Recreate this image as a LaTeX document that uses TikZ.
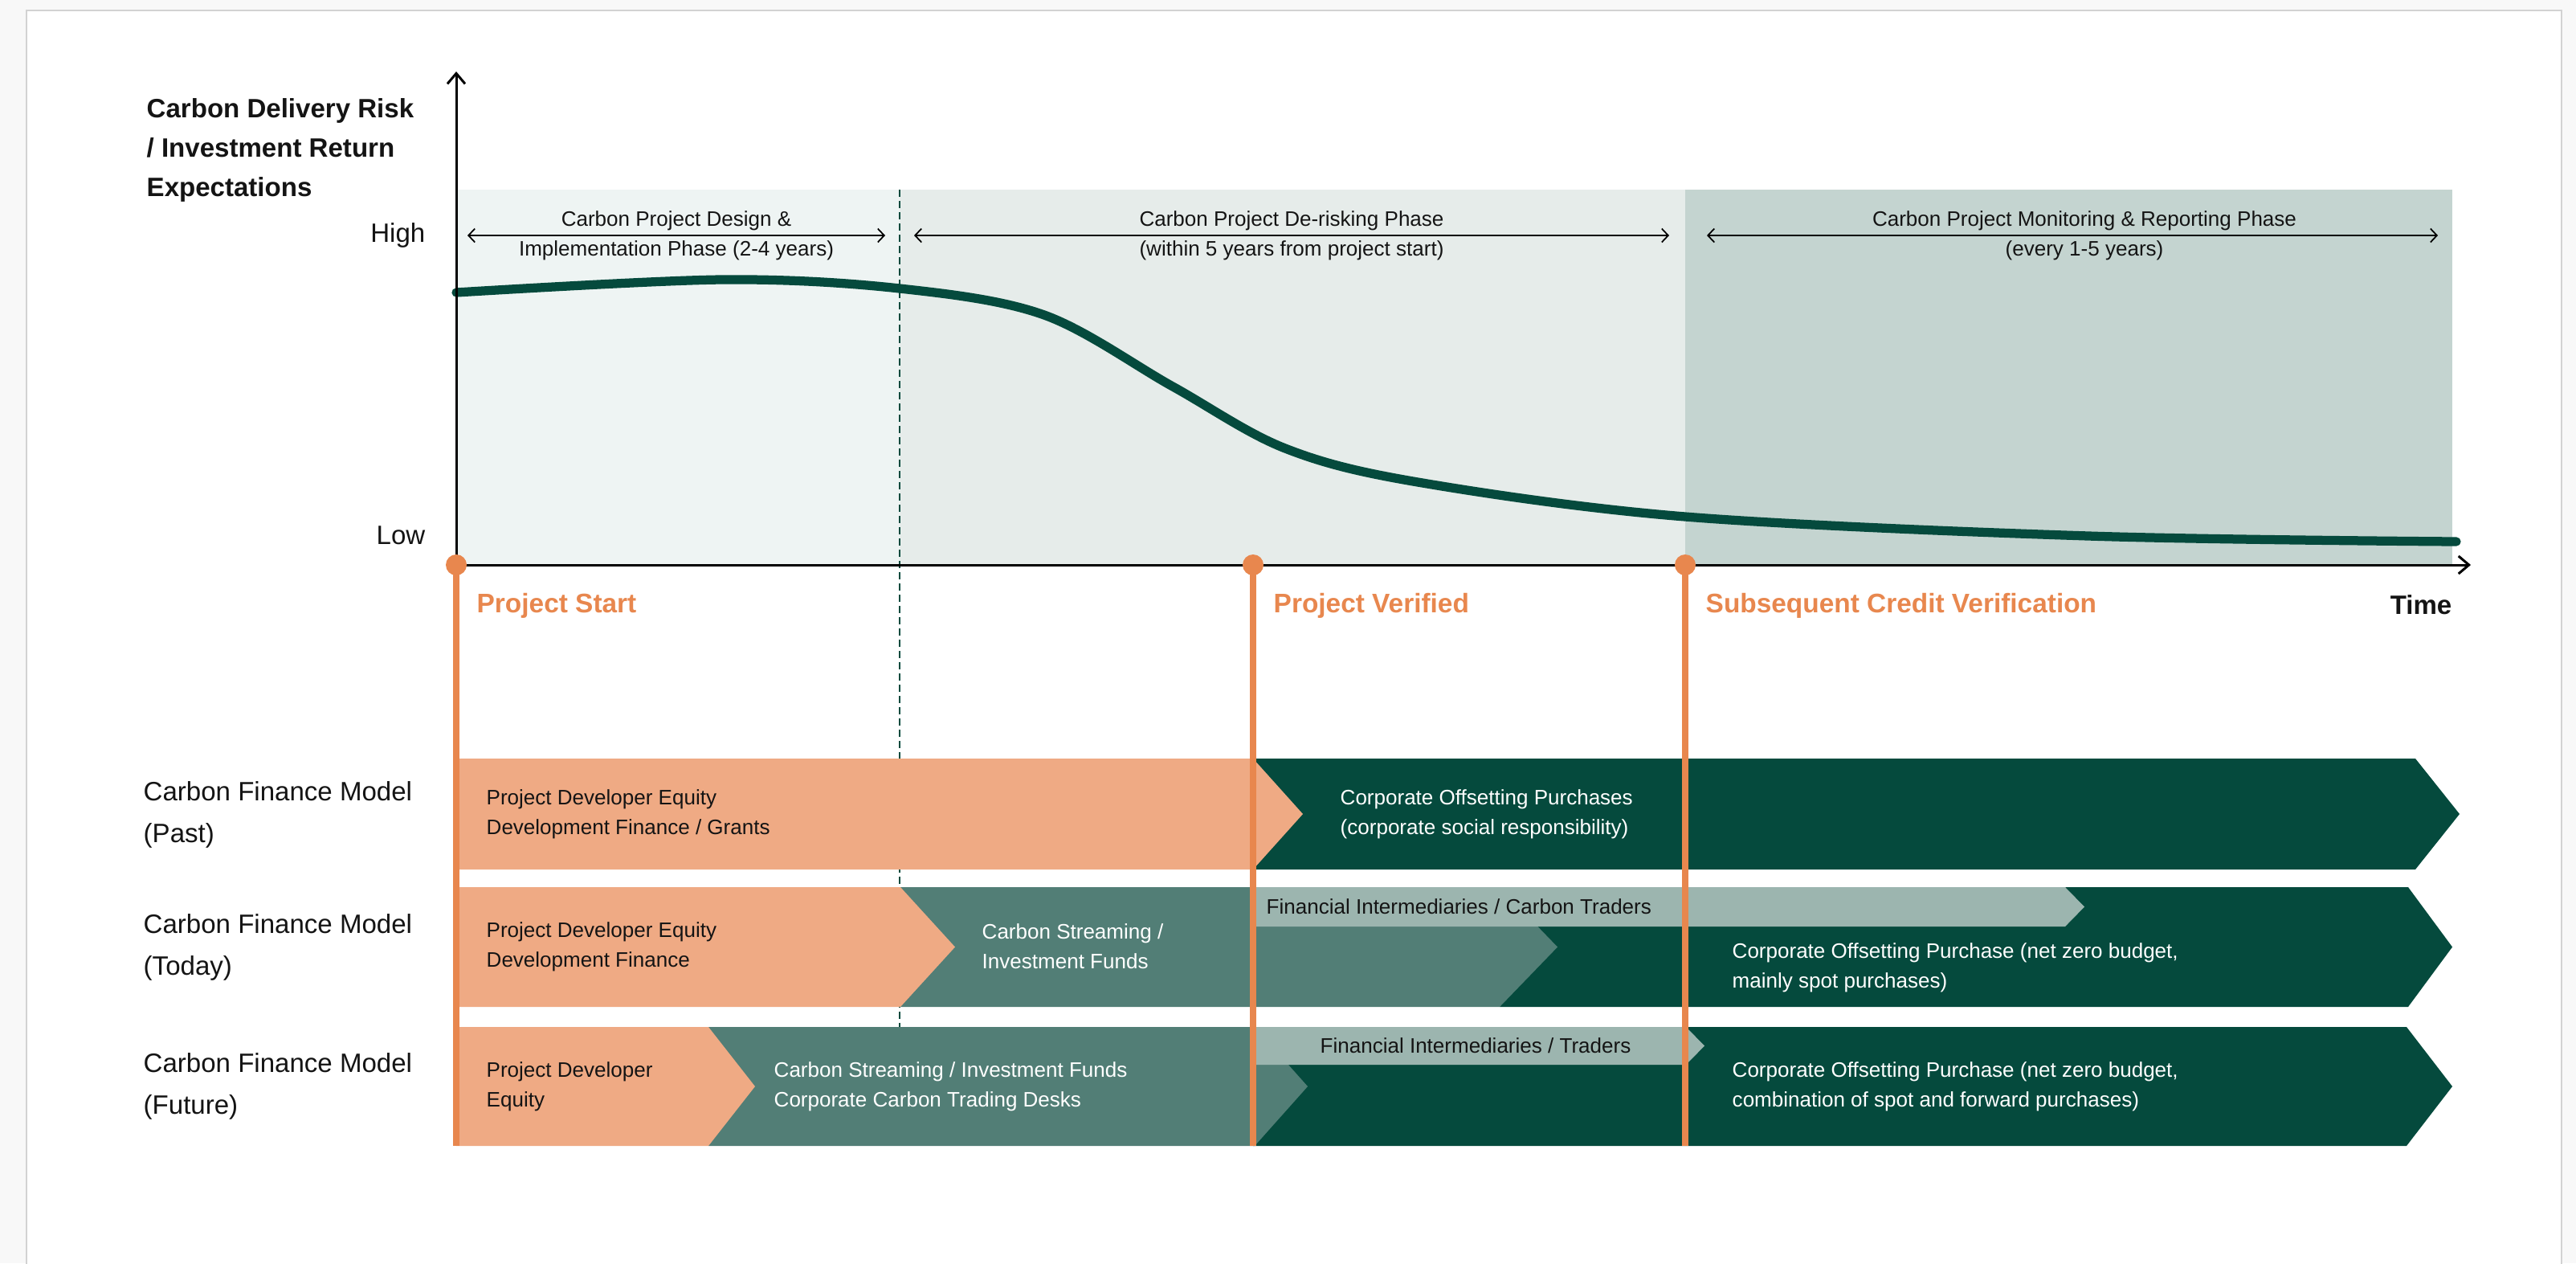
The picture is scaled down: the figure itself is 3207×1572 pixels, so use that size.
\documentclass[tikz,border=0pt]{standalone}
\usepackage{fontspec}
\setmainfont{Liberation Sans}
\usetikzlibrary{arrows.meta}

\definecolor{pagebg}{HTML}{F8F8F8}
\definecolor{panelrule}{HTML}{D2D2D2}
\definecolor{phaseA}{HTML}{EEF4F3}
\definecolor{phaseB}{HTML}{E6ECEA}
\definecolor{phaseC}{HTML}{C4D4D0}
\definecolor{forest}{HTML}{054A3D}
\definecolor{tealmid}{HTML}{527E76}
\definecolor{sage}{HTML}{9CB5AF}
\definecolor{salmon}{HTML}{EFAA84}
\definecolor{marker}{HTML}{E8874E}
\definecolor{ink}{HTML}{141414}

\begin{document}
\begin{tikzpicture}[
    x = 0.01cm,
    y = -0.01cm,
    big/.style = {font=\fontsize{9.4}{14}\selectfont, inner sep=0pt, text=ink},
    small/.style = {font=\fontsize{7.4}{10.5}\selectfont, inner sep=0pt, align=left, text=ink},
    light/.style = {small, text=white},
    axis/.style = {line width=0.85pt, -{Straight Barb[length=0.13cm, width=0.22cm]}},
    span/.style = {line width=0.5pt, {Straight Barb[length=0.08cm, width=0.17cm]}-{Straight Barb[length=0.08cm, width=0.17cm]}},
    milestone/.style = {line width=2.1pt, color=marker},
    ]
    \useasboundingbox (0,0) rectangle (3207,1572);
    % page and panel
    \fill[pagebg] (0,0) rectangle (3207,1572);
    \filldraw[fill=white, draw=panelrule, line width=0.6pt] (33,13) rectangle (3189,1640);
    % shaded phases
    \fill[phaseA] (568,236) rectangle (1120,703);
    \fill[phaseB] (1120,236) rectangle (2098,703);
    \fill[phaseC] (2098,236) rectangle (3053,703);
    % risk curve
    \draw[forest, line width=3.2pt, line cap=round]
    plot[smooth, tension=0.55] coordinates {(568,364) (899,348) (1120,359) (1300,392)
      (1460,481) (1600,558) (1765,600) (2098,643) (2600,667) (3058,674)};
    % dashed phase border
    \draw[forest, line width=0.6pt, dash pattern=on 0.09cm off 0.05cm] (1120,236) -- (1120,1278);
    % axes
    \coordinate (origin) at (568,703);
    \coordinate (ytop) at (568,89);
    \coordinate (xend) at (3076,703);
    \draw[axis] (origin) -- (ytop);
    \draw[axis] (origin) -- (xend);
    \node[big, font=\fontsize{9.4}{13.9}\selectfont\bfseries, anchor=west, align=left] (ylabel) at (182,187)
    {Carbon Delivery Risk\\/ Investment Return\\Expectations};
    \node[big, anchor=east] (high) at (530,293) {High};
    \node[big, anchor=east] (low) at (530,666) {Low};
    \node[big, font=\fontsize{9.4}{14}\selectfont\bfseries, anchor=east] (time) at (3053,753) {Time};
    % phase arrows
    \coordinate (phaseAl) at (582,293);
    \coordinate (phaseAr) at (1102,293);
    \coordinate (phaseBl) at (1138,293);
    \coordinate (phaseBr) at (2078,293);
    \coordinate (phaseCl) at (2125,293);
    \coordinate (phaseCr) at (3035,293);
    \draw[span] (phaseAl) -- (phaseAr) node[small, align=center, midway] (designtxt)
    {Carbon Project Design \&\\Implementation Phase (2-4 years)};
    \draw[span] (phaseBl) -- (phaseBr) node[small, align=center, midway] (derisktxt)
    {Carbon Project De-risking Phase\\(within 5 years from project start)};
    \draw[span] (phaseCl) -- (phaseCr) node[small, align=center, midway, xshift=0.15cm] (monitortxt)
    {Carbon Project Monitoring \& Reporting Phase\\(every 1-5 years)};
    % past row
    \fill[forest] (1560,944) -- (3007,944) -- (3062,1013) -- (3007,1082) -- (1560,1082) -- cycle;
    \fill[salmon] (568,944) -- (1560,944) -- (1622,1013) -- (1560,1082) -- (568,1082) -- cycle;
    % today row
    \fill[forest] (1867,1104) -- (2998,1104) -- (3053,1178.5) -- (2998,1253) -- (1867,1253) -- cycle;
    \fill[tealmid] (1121,1104) -- (1867,1104) -- (1939,1178.5) -- (1867,1253) -- (1121,1253) -- cycle;
    \fill[sage] (1560,1104) -- (2571,1104) -- (2595,1128.5) -- (2571,1153) -- (1560,1153) -- cycle;
    \fill[salmon] (568,1104) -- (1121,1104) -- (1189,1178.5) -- (1121,1253) -- (568,1253) -- cycle;
    % future row
    \fill[forest] (1560,1278) -- (2996,1278) -- (3053,1352) -- (2996,1426) -- (1560,1426) -- cycle;
    \fill[tealmid] (882,1278) -- (1562,1278) -- (1628,1352) -- (1562,1426) -- (882,1426) -- cycle;
    \fill[sage] (1560,1278) -- (2099,1278) -- (2122,1301.5) -- (2099,1325) -- (1560,1325) -- cycle;
    \fill[salmon] (568,1278) -- (882,1278) -- (940,1352) -- (882,1426) -- (568,1426) -- cycle;
    % row labels
    \node[big, align=left, font=\fontsize{9.4}{14.7}\selectfont, anchor=west] (past) at (178,1014)
    {Carbon Finance Model\\(Past)};
    \node[big, align=left, font=\fontsize{9.4}{14.7}\selectfont, anchor=west] (today) at (178,1179)
    {Carbon Finance Model\\(Today)};
    \node[big, align=left, font=\fontsize{9.4}{14.7}\selectfont, anchor=west] (future) at (178,1352)
    {Carbon Finance Model\\(Future)};
    % bar texts
    \node[small, anchor=west] (pastdev) at (605,1013) {Project Developer Equity\\Development Finance / Grants};
    \node[light, anchor=west] (pastcorp) at (1668,1013) {Corporate Offsetting Purchases\\(corporate social responsibility)};
    \node[small, anchor=west] (todaydev) at (605,1178) {Project Developer Equity\\Development Finance};
    \node[light, anchor=west] (todaystream) at (1222,1178) {Carbon Streaming /\\Investment Funds};
    \node[small, anchor=west] (todaytrade) at (1576,1128.5) {Financial Intermediaries / Carbon Traders};
    \node[light, anchor=west] (todaycorp) at (2156,1204.5) {Corporate Offsetting Purchase (net zero budget,\\mainly spot purchases)};
    \node[small, anchor=west] (futuredev) at (605,1352) {Project Developer\\Equity};
    \node[light, anchor=west] (futurestream) at (963,1352) {Carbon Streaming / Investment Funds\\Corporate Carbon Trading Desks};
    \node[small] (futuretrade) at (1837,1301.5) {Financial Intermediaries / Traders};
    \node[light, anchor=west] (futurecorp) at (2156,1352) {Corporate Offsetting Purchase (net zero budget,\\combination of spot and forward purchases)};
    % milestones
    \foreach \x/\n/\t in {568/start/Project Start, 1560/verified/Project Verified,
      2098/subsequent/Subsequent Credit Verification} {
      \coordinate (\n top) at (\x,703);
      \coordinate (\n bot) at (\x,1426);
      \draw[milestone] (\n top) -- (\n bot);
      \fill[marker] (\n top) circle[radius=0.13cm];
      \node[big, font=\fontsize{9.5}{14}\selectfont\bfseries, text=marker, anchor=west] (\n lbl)
      at (\x+25,754) {\t};
    }
  \end{tikzpicture}
\end{document}
